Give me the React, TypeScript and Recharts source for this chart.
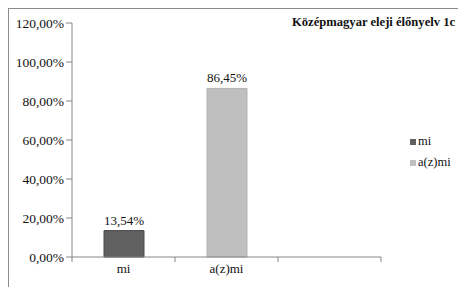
import React from "react";
import { BarChart, Bar, XAxis, YAxis, LabelList } from "recharts";

const categories = ["mi", "a(z)mi", ""];
const seriesNames = ["mi", "a(z)mi"];
const miValues: (number | null)[] = [13.54, null, null];
const azmiValues: (number | null)[] = [null, 86.45, null];
const yTicks = [0, 20, 40, 60, 80, 100, 120];
const title = "Középmagyar eleji élőnyelv 1c";
const colors = ["#606060", "#bfbfbf"];
const strokes = ["#474747", "#b3b3b3"];

const data = categories.map((c, i) => ({ cat: c, mi: miValues[i], azmi: azmiValues[i] }));

const fmt = (v: number) => v.toFixed(2).replace(".", ",") + "%";
const FONT = "Liberation Serif, Times New Roman, serif";

const XTick = (props: any) => {
  const { x, y, payload, index } = props;
  const off = payload?.offset ?? 0;
  const isLast = index === categories.length - 1;
  return (
    <g>
      <line x1={x - off} x2={x - off} y1={y - 8} y2={y - 3} stroke="#868686" />
      {isLast && <line x1={x + off} x2={x + off} y1={y - 8} y2={y - 3} stroke="#868686" />}
      <text x={x} y={y + 8} textAnchor="middle" fontSize={13} fontFamily={FONT} fill="#111">
        {payload.value}
      </text>
    </g>
  );
};

const labelFmt = (v: any) => (v == null || v === 0 ? "" : fmt(Number(v)));

export default function App() {
  return (
    <div style={{ position: "fixed", left: 0, top: 0, width: 458, height: 287, background: "#fff", overflow: "hidden", fontFamily: FONT }}>
      <div style={{ position: "absolute", left: 8, top: 8, width: 470, height: 300, borderTop: "1px solid #8c8c8c", borderLeft: "1px solid #8c8c8c" }} />
      <div style={{ position: "absolute", left: 292, top: 15, fontSize: 12.6, fontWeight: "bold", color: "#111", whiteSpace: "nowrap", fontFamily: FONT }}>
        {title}
      </div>
      <div style={{ position: "absolute", left: 0, top: 0 }}>
        <BarChart width={458} height={287} data={data} margin={{ top: 23, right: 77, bottom: 0, left: 0 }} style={{ fontFamily: FONT }}>
          <YAxis
            width={72}
            domain={[0, 120]}
            ticks={yTicks}
            interval={0}
            tickFormatter={fmt}
            axisLine={{ stroke: "#868686" }}
            tickLine={{ stroke: "#868686" }}
            tickSize={6}
            tick={{ fontSize: 13.5, fontFamily: FONT, fill: "#111" }}
          />
          <XAxis
            dataKey="cat"
            axisLine={{ stroke: "#868686" }}
            tickLine={false}
            tick={<XTick />}
            interval={0}
            height={30}
          />
          <Bar dataKey="mi" name={seriesNames[0]} stackId="s" fill={colors[0]} stroke={strokes[0]} barSize={40} isAnimationActive={false}>
            <LabelList dataKey="mi" position="top" offset={6} formatter={labelFmt} style={{ fontSize: 13, fontFamily: FONT, fill: "#111" }} />
          </Bar>
          <Bar dataKey="azmi" name={seriesNames[1]} stackId="s" fill={colors[1]} stroke={strokes[1]} barSize={40} isAnimationActive={false}>
            <LabelList dataKey="azmi" position="top" offset={6} formatter={labelFmt} style={{ fontSize: 13, fontFamily: FONT, fill: "#111" }} />
          </Bar>
        </BarChart>
      </div>
      {seriesNames.map((n, i) => (
        <div key={n} style={{ position: "absolute", left: 410, top: 134 + i * 21, display: "flex", alignItems: "center", fontSize: 12.5, color: "#111", fontFamily: FONT }}>
          <span style={{ display: "inline-block", width: 6, height: 6, background: colors[i], marginRight: 2 }} />
          <span>{n}</span>
        </div>
      ))}
    </div>
  );
}
